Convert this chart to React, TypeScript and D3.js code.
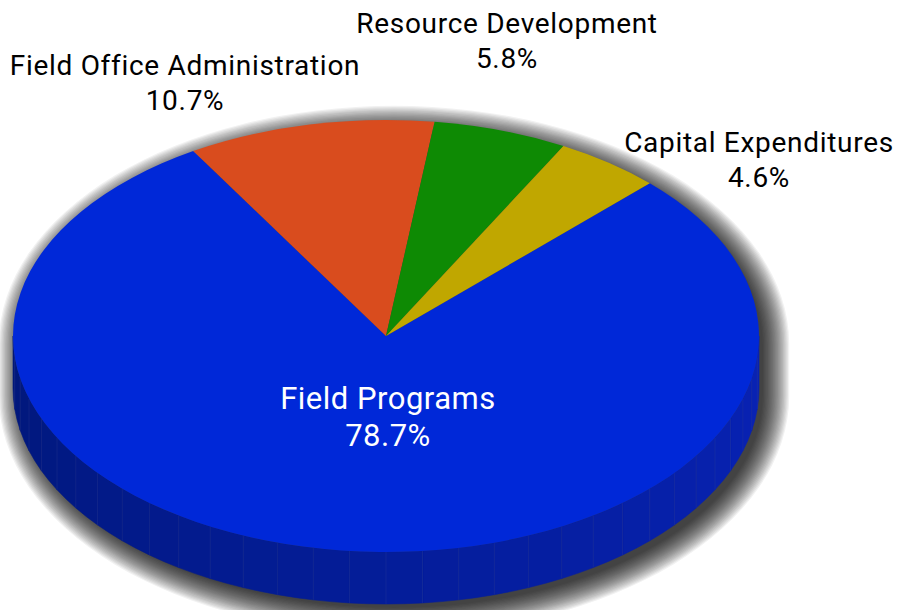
import React from "react";
import * as d3 from "d3";

const categories = ["Field Programs", "Field Office Administration", "Resource Development", "Capital Expenditures"];
const values = [78.7, 10.7, 5.8, 4.6];
const valueLabels = ["78.7%", "10.7%", "5.8%", "4.6%"];
const colors = ["#0028d8", "#d94c1e", "#0e8a04", "#c0a700"];

const W = 900, H = 610;
const cx = 386, cy = 336, rx = 373, ry = 216, depth = 52;

function pt(t: number, dy = 0): [number, number] {
  return [cx + rx * Math.sin(t), cy - ry * Math.cos(t) + dy];
}

function slicePath(a0: number, a1: number) {
  const p0 = pt(a0), p1 = pt(a1);
  const large = a1 - a0 > Math.PI ? 1 : 0;
  return `M${cx},${cy}L${p0[0]},${p0[1]}A${rx},${ry} 0 ${large} 1 ${p1[0]},${p1[1]}Z`;
}

function sidePath(a0: number, a1: number) {
  const p0 = pt(a0), p1 = pt(a1), q1 = pt(a1, depth), q0 = pt(a0, depth);
  return `M${p0[0]},${p0[1]}A${rx},${ry} 0 0 1 ${p1[0]},${p1[1]}L${q1[0]},${q1[1]}A${rx},${ry} 0 0 0 ${q0[0]},${q0[1]}Z`;
}

function silhouette(dx: number, dy: number, e: number) {
  const a = rx + e, b = ry + e;
  const l = cx - a + dx, r = cx + a + dx, y0 = cy + dy, y1 = cy + depth + dy;
  return `M${l},${y0}A${a},${b} 0 0 1 ${r},${y0}L${r},${y1}A${a},${b} 0 0 1 ${l},${y1}Z`;
}

const labelPos: { x: number; y: number; color: string; size: number; ls: number; gap: number }[] = [
  { x: 388, y: 409, color: "#ffffff", size: 31, ls: 0.5, gap: 37 },
  { x: 185, y: 75, color: "#000000", size: 28, ls: 0.7, gap: 35 },
  { x: 507, y: 33, color: "#000000", size: 28, ls: 0.7, gap: 35 },
  { x: 759, y: 152, color: "#000000", size: 28, ls: 0.7, gap: 35 },
];

export default function App() {
  const start = Math.PI / 4;
  const pie = d3
    .pie<number>()
    .sort(null)
    .startAngle(start)
    .endAngle(start + 2 * Math.PI);
  const arcs = pie(values);

  const segs: { a0: number; a1: number; color: string }[] = [];
  const n = 32;
  const shade = d3.interpolateRgb("#0822b4", "#00177a");
  for (let i = 0; i < n; i++) {
    const a0 = Math.PI / 2 + (i * Math.PI) / n;
    const a1 = Math.PI / 2 + ((i + 1) * Math.PI) / n;
    segs.push({ a0, a1, color: shade(Math.pow(i / (n - 1), 1.1)) });
  }

  const shadowLayers = d3.range(0, 22);

  return (
    <svg width={W} height={H} style={{ position: "absolute", left: 0, top: 0 }} fontFamily="Roboto, sans-serif">
      <rect width={W} height={H} fill="#fff" />
      <g>
        {shadowLayers.map((k) => (
          <path key={k} d={silhouette(8, 8, k * 1.25 - 4)} fill="#000" fillOpacity={0.055} />
        ))}
      </g>
      <g>
        {segs.map((s, i) => (
          <path key={i} d={sidePath(s.a0, s.a1)} fill={s.color} stroke={s.color} strokeWidth={0.6} />
        ))}
        {segs.slice(1).map((s, i) => {
          const p = pt(s.a0), q = pt(s.a0, depth);
          return <line key={"l" + i} x1={p[0]} y1={p[1]} x2={q[0]} y2={q[1]} stroke="#3a4aa0" strokeOpacity={0.35} strokeWidth={0.8} />;
        })}
        {arcs.map((a, i) => (
          <path key={i} d={slicePath(a.startAngle, a.endAngle)} fill={colors[i]} />
        ))}
      </g>
      {categories.map((c, i) => (
        <text key={c} x={labelPos[i].x} y={labelPos[i].y} textAnchor="middle" fontSize={labelPos[i].size} letterSpacing={labelPos[i].ls} fill={labelPos[i].color}>
          <tspan x={labelPos[i].x}>{c}</tspan>
          <tspan x={labelPos[i].x} dy={labelPos[i].gap}>{valueLabels[i]}</tspan>
        </text>
      ))}
    </svg>
  );
}
